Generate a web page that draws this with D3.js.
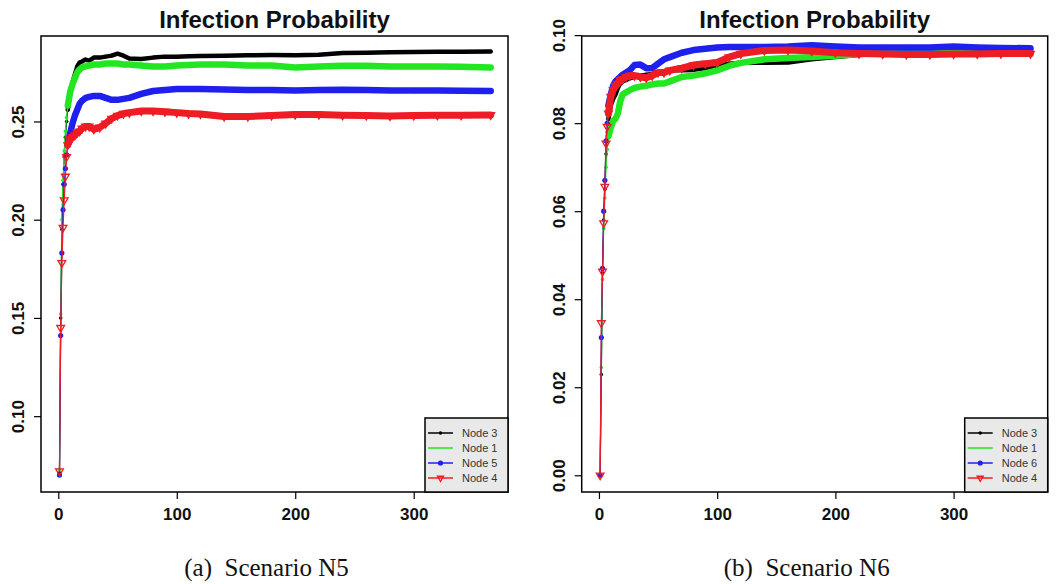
<!DOCTYPE html>
<html>
<head>
<meta charset="utf-8">
<script src="https://cdn.jsdelivr.net/npm/d3@7"></script>
<style>
  body { margin: 0; background: #fff; }
  svg { display: block; }
</style>
</head>
<body>
<svg id="chart" width="1061" height="584"></svg>
<script>
const days = [1, 2, 3, 4, 5, 6, 7, 8, 10, 12, 14, 16, 18, 20, 23, 26, 30, 35, 40, 45, 50,
  55, 60, 70, 80, 90, 100, 110, 120, 140, 160, 180, 200, 220, 240, 260, 280, 300, 320, 340, 365];

// scenario N5
const n5Node3 = [0.071, 0.150, 0.195, 0.218, 0.232, 0.242, 0.250, 0.256, 0.264, 0.270, 0.274, 0.278, 0.280, 0.2805, 0.2815, 0.281, 0.2825, 0.2825, 0.283, 0.2835, 0.2845,
  0.2835, 0.282, 0.2818, 0.2825, 0.283, 0.283, 0.2832, 0.2833, 0.2835, 0.2837, 0.2838, 0.2837, 0.284, 0.2848, 0.285, 0.2852, 0.2853, 0.2855, 0.2855, 0.2856];
const n5Node1 = [0.073, 0.152, 0.200, 0.220, 0.235, 0.245, 0.252, 0.258, 0.265, 0.269, 0.272, 0.275, 0.2765, 0.2775, 0.278, 0.2785, 0.279, 0.279, 0.2795, 0.2795, 0.2795,
  0.279, 0.279, 0.2785, 0.278, 0.278, 0.2785, 0.2788, 0.279, 0.279, 0.2785, 0.2785, 0.2775, 0.278, 0.2783, 0.2783, 0.278, 0.278, 0.278, 0.2778, 0.2775];
const n5Node5 = [0.070, 0.141, 0.183, 0.205, 0.218, 0.226, 0.233, 0.238, 0.244, 0.249, 0.253, 0.256, 0.259, 0.2605, 0.262, 0.2625, 0.263, 0.263, 0.262, 0.261, 0.261,
  0.2615, 0.262, 0.264, 0.2655, 0.266, 0.2665, 0.2665, 0.2665, 0.2663, 0.266, 0.266, 0.2658, 0.266, 0.2662, 0.266, 0.2658, 0.2657, 0.2658, 0.2656, 0.2655];
const n5Node4 = [0.072, 0.145, 0.178, 0.196, 0.210, 0.222, 0.232, 0.238, 0.241, 0.242, 0.243, 0.2445, 0.245, 0.2465, 0.2475, 0.2475, 0.246, 0.247, 0.249, 0.2515, 0.253,
  0.254, 0.2545, 0.2553, 0.2553, 0.255, 0.2545, 0.254, 0.2538, 0.2525, 0.2525, 0.253, 0.2535, 0.2535, 0.2532, 0.253, 0.2528, 0.253, 0.2532, 0.2532, 0.2533];

// scenario N6
const n6Node3 = [0, 0.0229, 0.046, 0.058, 0.065, 0.073, 0.078, 0.081, 0.084, 0.0855, 0.0865, 0.088, 0.089, 0.0895, 0.0898, 0.0902, 0.0905, 0.0908, 0.091, 0.0912, 0.0915,
  0.0918, 0.092, 0.092, 0.0921, 0.0925, 0.093, 0.0935, 0.0937, 0.0937, 0.0938, 0.0945, 0.095, 0.0955, 0.0957, 0.0959, 0.096, 0.0962, 0.0963, 0.0964, 0.0965];
const n6Node1 = [0, 0.0245, 0.0445, 0.0561, 0.063, 0.070, 0.074, 0.077, 0.079, 0.0805, 0.081, 0.0822, 0.085, 0.0865, 0.087, 0.0875, 0.088, 0.0883, 0.0885, 0.0888, 0.089,
  0.089, 0.0895, 0.0905, 0.0908, 0.0913, 0.092, 0.093, 0.0937, 0.0945, 0.0948, 0.095, 0.0953, 0.0957, 0.096, 0.0962, 0.0963, 0.0964, 0.0965, 0.0966, 0.0966];
const n6Node6 = [0, 0.0313, 0.047, 0.060, 0.067, 0.076, 0.080, 0.084, 0.0865, 0.0885, 0.0895, 0.090, 0.0905, 0.091, 0.0915, 0.092, 0.0932, 0.0933, 0.0925, 0.0925, 0.0935,
  0.0945, 0.095, 0.096, 0.0966, 0.0969, 0.0972, 0.0973, 0.0973, 0.0973, 0.0974, 0.0977, 0.0974, 0.0972, 0.0972, 0.0972, 0.0972, 0.0974, 0.0972, 0.0971, 0.097];
const n6Node4 = [0, 0.0346, 0.0463, 0.0573, 0.0656, 0.0754, 0.0792, 0.0822, 0.086, 0.0875, 0.0885, 0.089, 0.0898, 0.090, 0.0905, 0.0908, 0.0908, 0.0905, 0.0903, 0.0908, 0.0915,
  0.0915, 0.092, 0.0925, 0.0932, 0.0935, 0.0938, 0.095, 0.0958, 0.0965, 0.0966, 0.0964, 0.096, 0.0958, 0.0957, 0.0956, 0.0956, 0.0957, 0.0957, 0.0958, 0.0958];

const xTicks = [0, 100, 200, 300];
const n5Ticks = [0.10, 0.15, 0.20, 0.25];
const n6Ticks = [0.00, 0.02, 0.04, 0.06, 0.08, 0.10];

const svg = d3.select('svg#chart');

// series styles, in drawing order
const styles = [
  {color: '#000000', band: 4.5, marker: 'dot'},
  {color: '#22e622', band: 6.5, marker: 'small'},
  {color: '#2020ee', band: 6.5, marker: 'circle'},
  {color: '#ee1c24', band: 7, marker: 'tri'}
];

const panels = [
  {
    left: 41, right: 508, title: 'Infection Probability', caption: '(a)  Scenario N5',
    yDomain: [0.0614, 0.2935], yTicks: n5Ticks, fmt: d3.format('.2f'),
    series: [n5Node3, n5Node1, n5Node5, n5Node4],
    names: ['Node 3', 'Node 1', 'Node 5', 'Node 4']
  },
  {
    left: 581.7, right: 1047.7, title: 'Infection Probability', caption: '(b)  Scenario N6',
    yDomain: [-0.0038, 0.0998], yTicks: n6Ticks, fmt: d3.format('.2f'),
    series: [n6Node3, n6Node1, n6Node6, n6Node4],
    names: ['Node 3', 'Node 1', 'Node 6', 'Node 4']
  }
];

const plotTop = 36, plotBottom = 492;

panels.forEach(drawPanel);

function drawPanel(p) {
  const g = svg.append('g');

  const x = d3.scaleLinear().domain([-14.6, 379.6]).range([p.left, p.right]);
  const y = d3.scaleLinear().domain(p.yDomain).range([plotBottom, plotTop]);

  // lines, then the dense band and markers
  p.series.forEach((vals, i) => {
    const st = styles[i];
    const pts = days.map((d, j) => [d, vals[j]]);
    const line = d3.line().x(d => x(d[0])).y(d => y(d[1]));

    g.append('path')
      .attr('d', line(pts))
      .style('fill', 'none')
      .style('stroke', st.color)
      .style('stroke-width', 1.2);

    g.append('path')
      .attr('d', line(pts.filter(d => d[0] >= 8)))
      .style('fill', 'none')
      .style('stroke', st.color)
      .style('stroke-width', st.band)
      .style('stroke-linejoin', 'round')
      .style('stroke-linecap', 'round');

    drawMarkers(g, pts.map(d => [x(d[0]), y(d[1])]), st, 26);
  });

  // box
  g.append('rect')
    .attr('x', p.left).attr('y', plotTop)
    .attr('width', p.right - p.left).attr('height', plotBottom - plotTop)
    .style('fill', 'none').style('stroke', '#000').style('stroke-width', 1.5);

  // axes
  const yAxis = g.append('g')
    .attr('transform', `translate(${p.left},0)`)
    .call(d3.axisLeft(y).tickValues(p.yTicks).tickFormat(p.fmt).tickSize(7).tickSizeOuter(0));
  yAxis.select('.domain').remove();
  yAxis.selectAll('line').style('stroke', '#000').style('stroke-width', 1.2);
  yAxis.selectAll('text')
    .attr('x', 0).attr('y', 0).attr('dy', 0)
    .attr('transform', 'translate(-17,0) rotate(-90)')
    .attr('text-anchor', 'middle')
    .style('font', 'bold 17px "Liberation Sans", Arial, sans-serif')
    .style('fill', '#111');

  const xAxis = g.append('g')
    .attr('transform', `translate(0,${plotBottom})`)
    .call(d3.axisBottom(x).tickValues(xTicks).tickSize(7).tickSizeOuter(0));
  xAxis.select('.domain').remove();
  xAxis.selectAll('line').style('stroke', '#000').style('stroke-width', 1.2);
  xAxis.selectAll('text')
    .attr('y', 28).attr('dy', 0)
    .style('font', 'bold 17px "Liberation Sans", Arial, sans-serif')
    .style('fill', '#111');

  // title
  g.append('text')
    .attr('x', (p.left + p.right) / 2)
    .attr('y', 28)
    .attr('text-anchor', 'middle')
    .style('font', 'bold 24px "Liberation Sans", Arial, sans-serif')
    .style('fill', '#111')
    .text(p.title);

  // caption under the panel
  g.append('text')
    .attr('x', (p.left + p.right) / 2 - 8)
    .attr('y', 576)
    .attr('text-anchor', 'middle')
    .style('font', '25px "Liberation Serif", "Times New Roman", serif')
    .style('white-space', 'pre')
    .style('fill', '#111')
    .text(p.caption);

  drawLegend(g, p);
}

function drawMarkers(g, pts, st, triSize) {
  if (st.marker === 'tri') {
    const sym = d3.symbol().type(d3.symbolTriangle).size(triSize);
    g.selectAll(null).data(pts).enter().append('path')
      .attr('d', sym)
      .attr('transform', d => `translate(${d[0]},${d[1]}) rotate(180)`)
      .style('fill', 'none')
      .style('stroke', st.color)
      .style('stroke-width', 1.3);
  } else {
    const r = {dot: 1.8, small: 1.8, circle: 2.6}[st.marker];
    g.selectAll(null).data(pts).enter().append('circle')
      .attr('cx', d => d[0]).attr('cy', d => d[1]).attr('r', r)
      .style('fill', st.color);
  }
}

function drawLegend(g, p) {
  const lg = {w: 83, h: 74, row: 15, first: 15};
  const lx = p.right - lg.w, ly = plotBottom - lg.h;

  const leg = g.append('g').attr('transform', `translate(${lx},${ly})`);
  leg.append('rect')
    .attr('width', lg.w).attr('height', lg.h)
    .style('fill', '#e9e9e9').style('stroke', '#000').style('stroke-width', 1.5);

  p.names.forEach((name, i) => {
    const st = styles[i];
    const yy = lg.first + i * lg.row;
    leg.append('line')
      .attr('x1', 3).attr('x2', 28).attr('y1', yy).attr('y2', yy)
      .style('stroke', st.color).style('stroke-width', 1.5);
    if (st.marker !== 'small') drawMarkers(leg, [[15.5, yy]], st, 16);
    leg.append('text')
      .attr('x', 37).attr('y', yy)
      .attr('dy', '0.35em')
      .style('font', '11px "Liberation Sans", Arial, sans-serif')
      .style('fill', '#333')
      .text(name);
  });
}
</script>
</body>
</html>
